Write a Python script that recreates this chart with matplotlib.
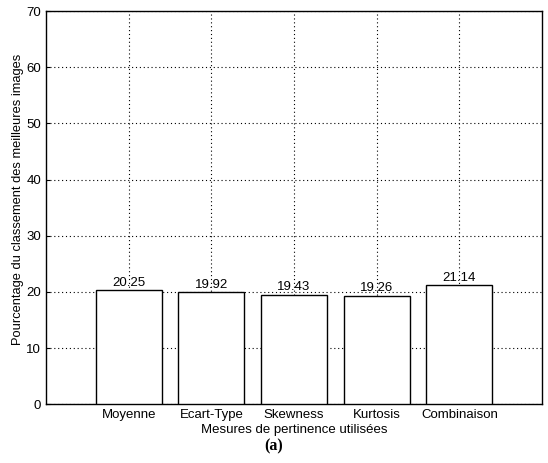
import numpy as np
import matplotlib
matplotlib.use('Agg')
import matplotlib.pyplot as plt

plt.rcParams['font.family'] = ['Liberation Sans', 'DejaVu Sans']

# data
categories = ['Moyenne', 'Ecart-Type', 'Skewness', 'Kurtosis', 'Combinaison']
values = [20.25, 19.92, 19.43, 19.26, 21.14]
y_ticks = [0, 10, 20, 30, 40, 50, 60, 70]

fig = plt.figure(figsize=(5.48, 4.63), dpi=100)
ax = fig.add_axes([0.084, 0.127, 0.905, 0.849])

pos = np.arange(1, len(categories) + 1)
ax.bar(pos, values, width=0.8, color='white', edgecolor='black', linewidth=1.0, zorder=3)

for x, v in zip(pos, values):
    ax.text(x, v + 0.3, '%.2f' % v, ha='center', va='bottom', fontsize=9.5, zorder=4)

ax.set_xlim(0, 6)
ax.set_ylim(0, 70)
ax.set_xticks(pos)
ax.set_xticklabels(categories, fontsize=9.5)
ax.set_yticks(y_ticks)
ax.tick_params(axis='y', labelsize=9.5)
ax.tick_params(direction='in', length=3, width=0.8)
ax.grid(True, linestyle=(0, (1, 2.5)), color='black', linewidth=0.8, zorder=0)
for s in ax.spines.values():
    s.set_linewidth(1.0)

ax.set_xlabel('Mesures de pertinence utilisées', fontsize=9.5, labelpad=2)
ax.set_ylabel('Pourcentage du classement des meilleures images', fontsize=9.3)
ax.yaxis.set_label_coords(-0.045, 0.52)

fig.text(0.5, 0.035, '(a)', ha='center', va='center', fontsize=11.5,
         fontweight='bold', family='Liberation Serif')

plt.savefig('out.png', dpi=100)
